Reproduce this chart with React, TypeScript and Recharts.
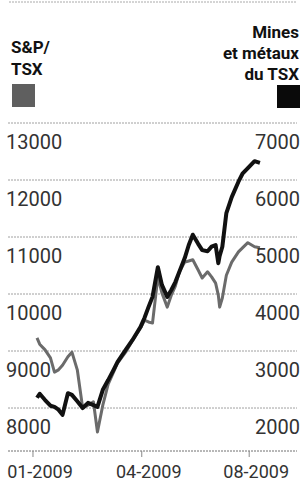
import React from "react";
import { LineChart, Line, XAxis, YAxis, CartesianGrid } from "recharts";

// trading-day index from the start of January 2009
const days = [
  0, 2, 6, 10, 13, 16, 19, 23, 26, 30, 34, 38, 42, 45, 49, 53, 57, 60, 66, 71,
  77, 80, 83, 86, 90, 93, 97, 100, 103, 106, 110, 113, 116, 120, 123, 127, 130,
  133, 135, 136, 138, 141, 145, 150, 153, 157, 162, 166,
];

// S&P/TSX (left axis)
const tsx = [
  9230, 9120, 9020, 8880, 8630, 8670, 8750, 8900, 8980, 8670,
  8000, 8050, 8110, 7580, 8050, 8420, 8630, 8790, 8980, 9180,
  9400, 9540, 9510, 9490, 10300, 10020, 9770, 9980, 10140, 10390,
  10560, 10580, 10600, 10420, 10280, 10390, 10300, 10190, 9980, 9770,
  9930, 10330, 10560, 10740, 10810, 10900, 10830, 10810,
];

// Mines et métaux du TSX (right axis)
const mines = [
  2180, 2250, 2140, 2040, 2020, 1970, 1880, 2260, 2230, 2120,
  2000, 2090, 2050, 2020, 2320, 2490, 2670, 2810, 3020, 3190,
  3420, 3580, 3770, 3950, 4470, 4160, 3950, 4070, 4210, 4390,
  4630, 4860, 5040, 4880, 4770, 4750, 4830, 4860, 4540, 4670,
  4830, 5420, 5700, 5970, 6110, 6210, 6330, 6300,
];

const leftTicks = [8000, 9000, 10000, 11000, 12000, 13000];
const rightTicks = [2000, 3000, 4000, 5000, 6000, 7000];
const tickDays = [-3, 78, 158];
const tickLabels = ["01-2009", "04-2009", "08-2009"];

const data = days.map((d, i) => ({ day: d, tsx: tsx[i], mines: mines[i] }));

const FONT = "Roboto, 'Liberation Sans', sans-serif";
const GRAY = "#6b6b6b";

const LeftTick = (p: any) => (
  <text x={6} y={p.y + 26} textAnchor="start" fontFamily={FONT} fontSize={20} fill="#333">
    {p.payload.value}
  </text>
);
const RightTick = (p: any) => (
  <text x={300} y={p.y + 26} textAnchor="end" fontFamily={FONT} fontSize={20} fill="#333">
    {p.payload.value}
  </text>
);
const DateTick = (p: any) => (
  <text x={p.x + 7} y={478} textAnchor="middle" fontFamily={FONT} fontSize={18} fill="#333">
    {tickLabels[tickDays.indexOf(p.payload.value)]}
  </text>
);

export default function App() {
  return (
    <div style={{ position: "absolute", left: 0, top: 0, width: 304, height: 483, background: "#fff" }}>
      <svg width={304} height={120} style={{ position: "absolute", left: 0, top: 0 }}>
        <line x1={9} x2={297} y1={2} y2={2} stroke="#aaa" strokeDasharray="2 1" />
        <g fontFamily={FONT} fontWeight={700} fontSize={17} fill="#111">
          <text x={11} y={53}>S&amp;P/</text>
          <text x={11} y={75}>TSX</text>
          <text x={299} y={38} textAnchor="end">Mines</text>
          <text x={299} y={59} textAnchor="end">et métaux</text>
          <text x={299} y={80} textAnchor="end">du TSX</text>
        </g>
        <rect x={12} y={84} width={23} height={23} fill="#5f5f5f" />
        <rect x={277} y={85} width={23} height={23} fill="#0a0a0a" />
      </svg>
      <div style={{ position: "absolute", left: 0, top: 0 }}>
        <LineChart width={304} height={483} data={data} margin={{ top: 123, right: 6, bottom: 31, left: 7 }}>
          <CartesianGrid yAxisId="l" vertical={false} stroke="#a0a0a0" strokeDasharray="2 1" />
          <XAxis
            dataKey="day"
            type="number"
            domain={[-21.6, 193.6]}
            ticks={tickDays}
            interval={0}
            allowDataOverflow
            height={1}
            axisLine={{ stroke: "#a0a0a0", strokeDasharray: "2 1" }}
            tickLine={{ stroke: "#888" }}
            tickSize={6}
            tick={<DateTick />}
          />
          <YAxis
            yAxisId="l"
            width={1}
            domain={[7246, 13000]}
            ticks={leftTicks}
            interval={0}
            allowDataOverflow
            axisLine={false}
            tickLine={false}
            tick={<LeftTick />}
          />
          <YAxis
            yAxisId="r"
            orientation="right"
            width={1}
            domain={[1246, 7000]}
            ticks={rightTicks}
            interval={0}
            allowDataOverflow
            axisLine={false}
            tickLine={false}
            tick={<RightTick />}
          />
          <Line yAxisId="l" dataKey="tsx" stroke={GRAY} strokeWidth={3} dot={false} strokeLinejoin="round" isAnimationActive={false} />
          <Line yAxisId="r" dataKey="mines" stroke="#111" strokeWidth={4} dot={false} strokeLinejoin="round" isAnimationActive={false} />
        </LineChart>
      </div>
    </div>
  );
}
